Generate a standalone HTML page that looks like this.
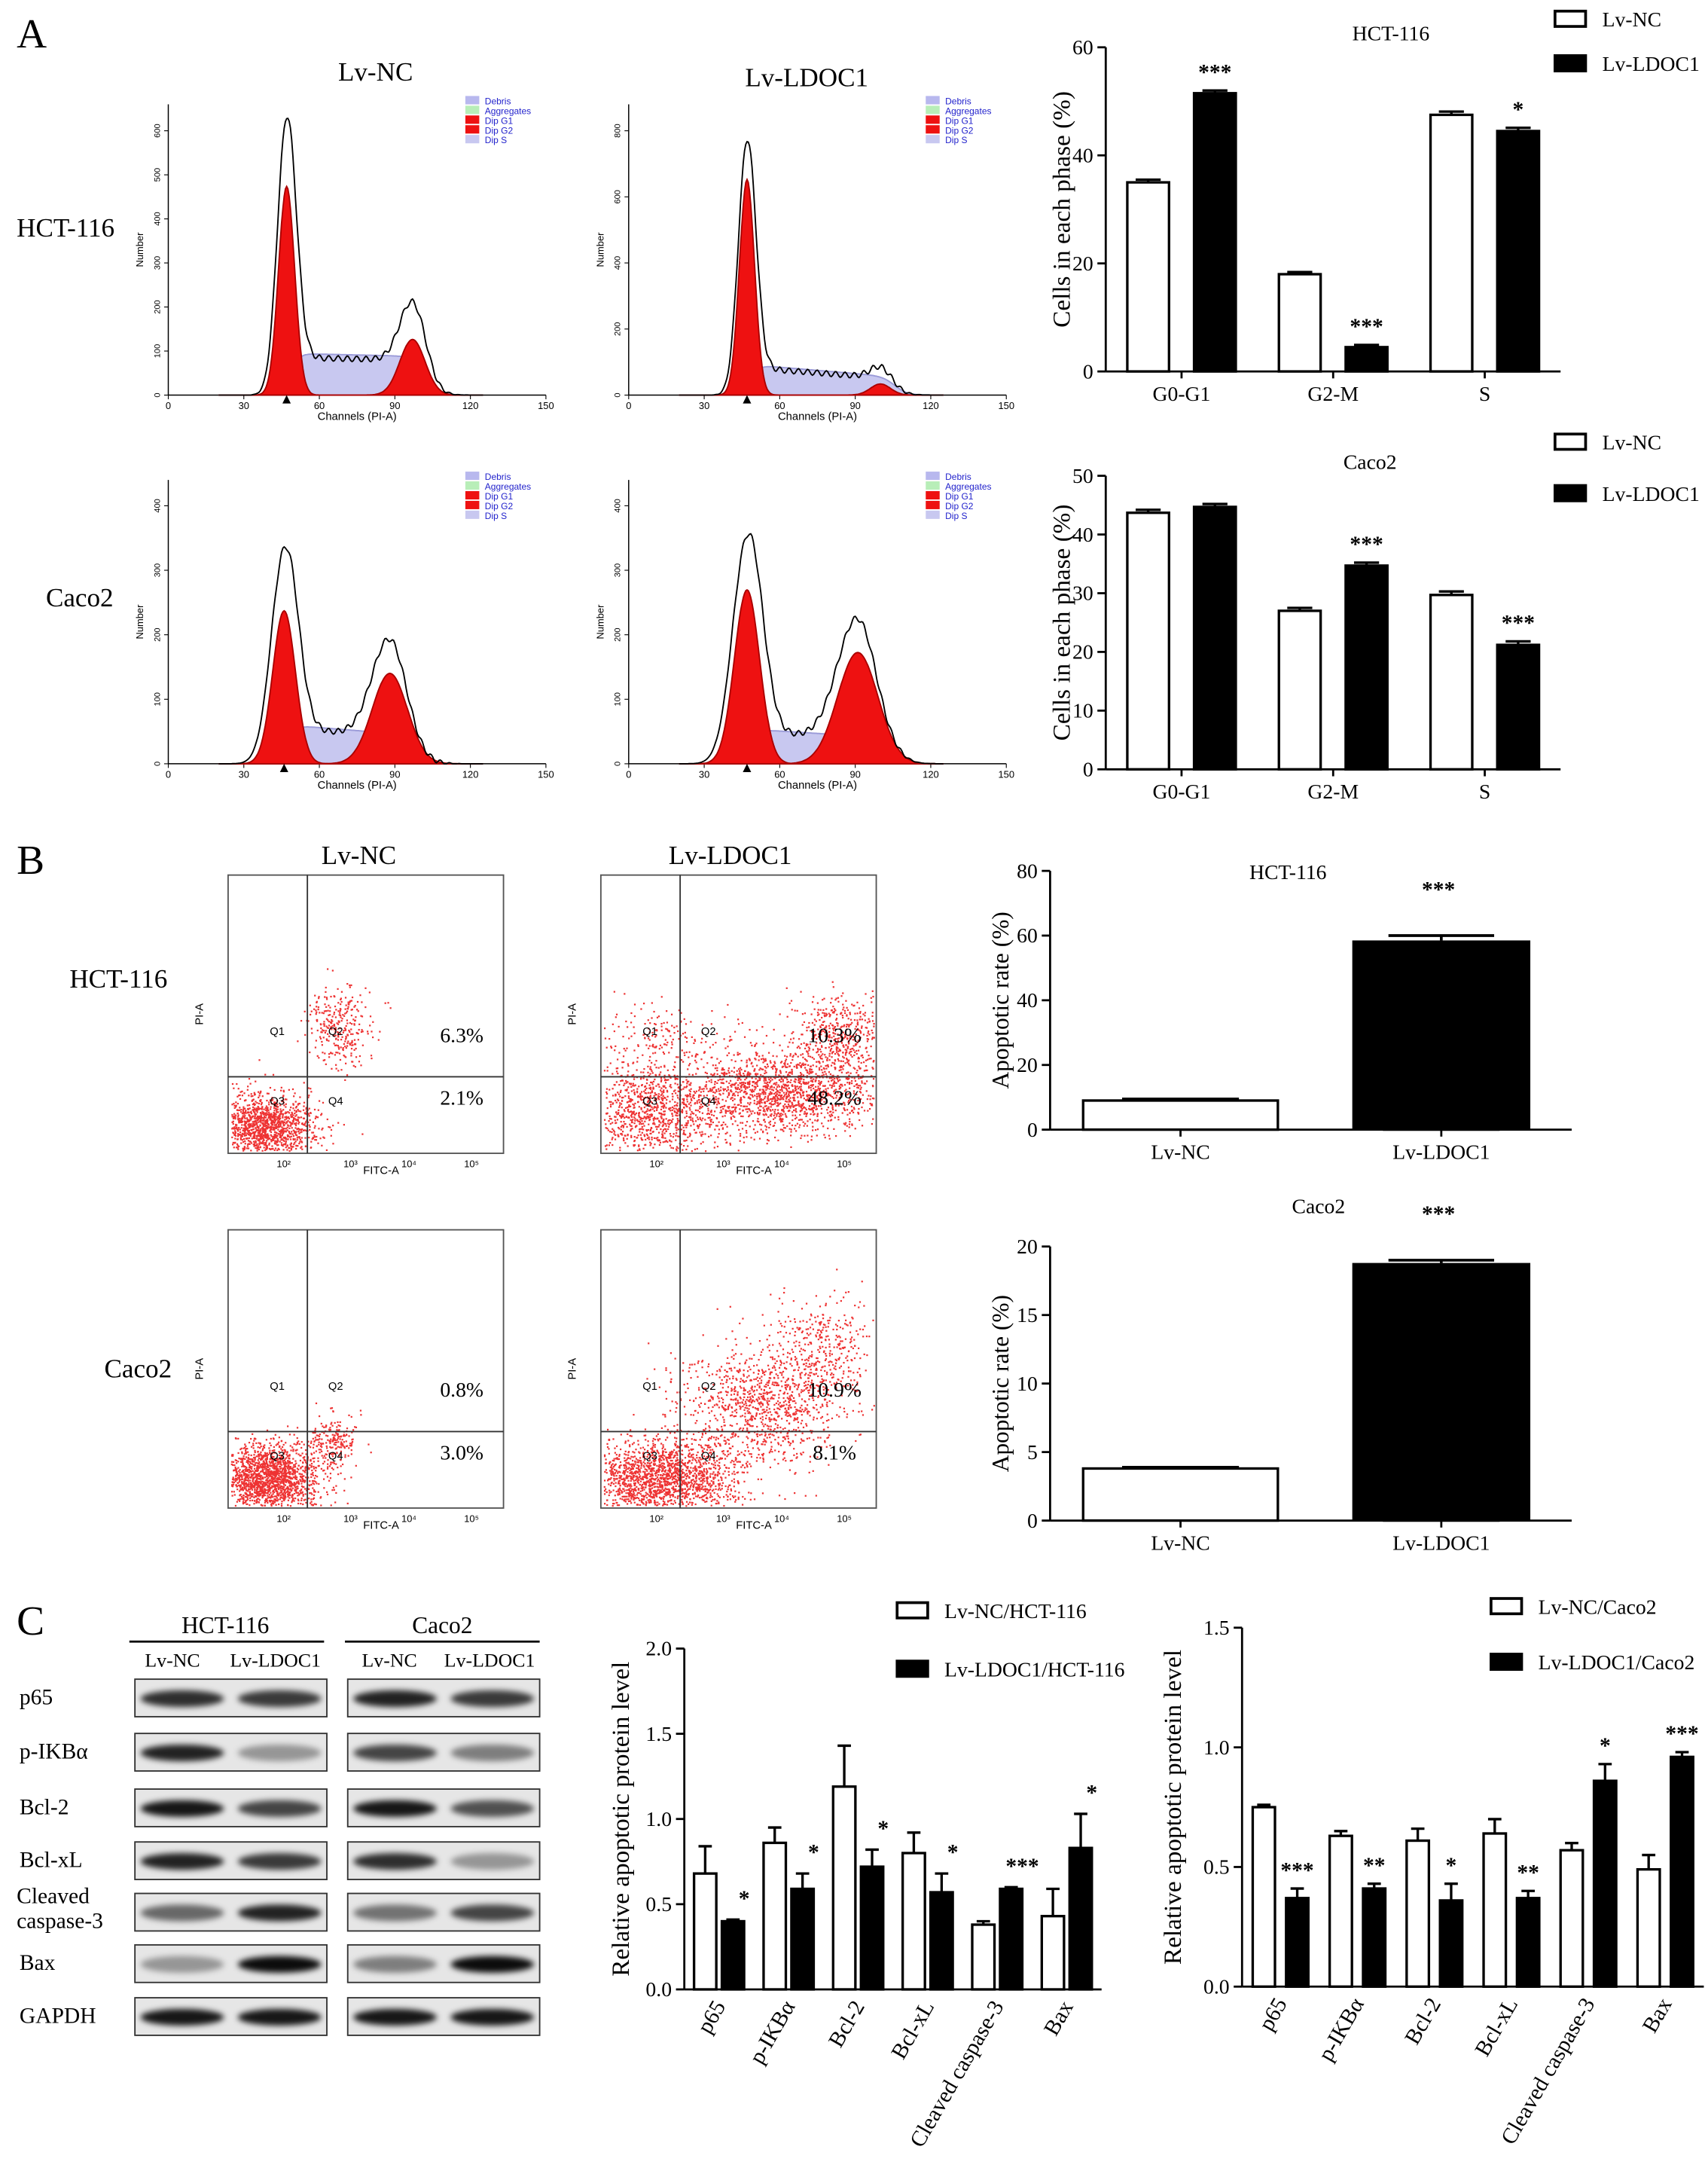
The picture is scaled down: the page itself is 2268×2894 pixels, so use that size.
<!DOCTYPE html>
<html><head><meta charset="utf-8"><style>
html,body{margin:0;padding:0;background:#fff}
svg{display:block}
text{font-family:"Liberation Serif",serif;fill:#000}
.s{font-family:"Liberation Sans",sans-serif}
</style></head><body>
<svg id="fig" width="2268" height="2894" viewBox="0 0 1228 1567" preserveAspectRatio="none" xmlns="http://www.w3.org/2000/svg">
<defs>
<filter id="blur" x="-20%" y="-50%" width="140%" height="200%"><feGaussianBlur stdDeviation="2.2"/></filter>
</defs>
<rect width="1228" height="1567" fill="#fff"/>
<text x="12" y="34" font-size="30">A</text>
<text x="12" y="628" font-size="30">B</text>
<text x="12" y="1175" font-size="30">C</text>
<g id="root"></g>
</svg>
<script>
// ---------- data ----------
const cycleCats=["G0-G1","G2-M","S"];
const hctCycleNC=[35,18,47.5];
const hctCycleLD=[51.5,4.5,44.5];
const hctCycleErrNC=[0.5,0.4,0.6];
const hctCycleErrLD=[0.5,0.4,0.6];
const hctCycleStars=["***","***","*"];
const cacoCycleNC=[43.7,27,29.7];
const cacoCycleLD=[44.7,34.7,21.2];
const cacoCycleErr=[0.5,0.5,0.6];
const cacoCycleStars=["","***","***"];
const apopCats=["Lv-NC","Lv-LDOC1"];
const hctApop=[9,58.5];
const hctApopErr=[0.5,1.5];
const cacoApop=[3.8,18.8];
const cacoApopErr=[0.1,0.2];
const protCats=["p65","p-IKB\u03b1","Bcl-2","Bcl-xL","Cleaved caspase-3","Bax"];
const hctProtNC=[0.68,0.86,1.19,0.80,0.38,0.43];
const hctProtLD=[0.40,0.59,0.72,0.57,0.59,0.83];
const hctProtErrNC=[0.16,0.09,0.24,0.12,0.02,0.16];
const hctProtErrLD=[0.01,0.09,0.10,0.11,0.01,0.20];
const hctProtStars=["*","*","*","*","***","*"];
const cacoProtNC=[0.75,0.63,0.61,0.64,0.57,0.49];
const cacoProtLD=[0.37,0.41,0.36,0.37,0.86,0.96];
const cacoProtErrNC=[0.01,0.02,0.05,0.06,0.03,0.06];
const cacoProtErrLD=[0.04,0.02,0.07,0.03,0.07,0.02];
const cacoProtStars=["***","**","*","**","*","***"];

const NS="http://www.w3.org/2000/svg";
const root=document.getElementById('root');
function el(tag,attrs,parent,txt){const e=document.createElementNS(NS,tag);for(const k in attrs)e.setAttribute(k,attrs[k]);if(txt!==undefined)e.textContent=txt;(parent||root).appendChild(e);return e;}

// ---------- bar chart ----------
function barChart(o){
  const g=el('g',{});
  
  
  const y=v=>o.y0-(v/o.max)*(o.y0-o.y1);
  const n=o.cats.length, gw=(o.x1-o.x0)/n;
  el('line',{x1:o.x0,y1:o.y0,x2:o.x0,y2:o.y1,stroke:'#000','stroke-width':1.5},g);
  el('line',{x1:o.x0,y1:o.y0,x2:o.x1,y2:o.y0,stroke:'#000','stroke-width':1.5},g);
  o.ticks.forEach(t=>{
    el('line',{x1:o.x0-6,y1:y(t),x2:o.x0,y2:y(t),stroke:'#000','stroke-width':1.5},g);
    const tl=el('text',{x:o.x0-9,y:y(t)+5,'font-size':15,'text-anchor':'end'},g,o.tickFmt?o.tickFmt(t):t);
    
    
  });
  const yt=el('text',{x:0,y:0,'font-size':o.ylSize||18,'text-anchor':'middle',transform:`translate(${o.x0-o.ylOff},${(o.y0+o.y1)/2}) rotate(-90)`},g,o.ylabel);
  
  
  if(o.title){const t=el('text',{x:o.titleX,y:o.titleY,'font-size':15,'text-anchor':'middle'},g,o.title);}
  o.cats.forEach((c,i)=>{
    const cx=o.x0+gw*(i+0.5);
    const series=[[o.v1,o.e1,'#fff'],[o.v2,o.e2,'#000']].filter(s=>s[0]);
    series.forEach((s,j)=>{
      const bx=series.length===1?cx-o.bw/2:(j===0?cx-o.bw-o.gap/2:cx+o.gap/2);
      const v=s[0][i], e=s[1][i];
      const r=el('rect',{x:bx,y:y(v),width:o.bw,height:o.y0-y(v),fill:s[2],stroke:'#000','stroke-width':1.8},g);
      
      
      const mx=bx+o.bw/2;
      el('line',{x1:mx,y1:y(v),x2:mx,y2:y(v+e),stroke:'#000','stroke-width':1.8},g);
      el('line',{x1:mx-o.bw*0.3,y1:y(v+e),x2:mx+o.bw*0.3,y2:y(v+e),stroke:'#000','stroke-width':1.8},g);
      if(j===series.length-1 && o.stars && o.stars[i]){
        const st=el('text',{x:mx+(o.starDx||0),y:Math.min(y(v+e),y(v))-(o.starGap||8),'font-size':16,'font-weight':'bold','text-anchor':'middle'},g,o.stars[i]);
        
        
      }
    });
    if(o.rotate){
      const xl=el('text',{x:0,y:0,'font-size':16,'text-anchor':'end',transform:`translate(${cx+5},${o.y0+12}) rotate(-60)`},g,c);
      
      
    } else {
      el('line',{x1:cx,y1:o.y0,x2:cx,y2:o.y0+5,stroke:'#000','stroke-width':1.5},g);
      const xl=el('text',{x:cx,y:o.y0+21,'font-size':15,'text-anchor':'middle'},g,c);
      
      
    }
  });
  if(o.legend){
    o.legend.forEach((l,k)=>{
      const ly=o.legY+k*o.legStep;
      const r=el('rect',{x:o.legX,y:ly-6,width:22,height:11,fill:k?'#000':'#fff',stroke:'#000','stroke-width':2},g);
      
      
      const t=el('text',{x:o.legX+34,y:ly+5,'font-size':15},g,l);
      
      
    });
  }
}

barChart({name:'hct116-cycle-chart',x0:795,x1:1122,y0:267,y1:34,max:60,ticks:[0,20,40,60],cats:cycleCats,v1:hctCycleNC,v2:hctCycleLD,e1:hctCycleErrNC,e2:hctCycleErrLD,stars:hctCycleStars,bw:30,gap:18,ylabel:'Cells in each phase (%)',ylOff:26,title:'HCT-116',titleX:1000,titleY:29,legend:['Lv-NC','Lv-LDOC1'],legX:1118,legY:14,legStep:32});
barChart({name:'caco2-cycle-chart',x0:795,x1:1122,y0:553,y1:342,max:50,ticks:[0,10,20,30,40,50],cats:cycleCats,v1:cacoCycleNC,v2:cacoCycleLD,e1:cacoCycleErr,e2:cacoCycleErr,stars:cacoCycleStars,bw:30,gap:18,ylabel:'Cells in each phase (%)',ylOff:26,title:'Caco2',titleX:985,titleY:337,legend:['Lv-NC','Lv-LDOC1'],legX:1118,legY:318,legStep:37});
barChart({name:'hct116-apoptosis-chart',x0:755,x1:1130,y0:812,y1:626,max:80,ticks:[0,20,40,60,80],cats:apopCats,v1:[hctApop[0],0],v2:null,e1:[hctApopErr[0],0],bw:140,gap:0,ylabel:'Apoptotic rate (%)',ylOff:30,ylSize:17,title:'HCT-116',titleX:926,titleY:632});
barChart({name:'caco2-apoptosis-chart',x0:755,x1:1130,y0:1093,y1:896,max:20,ticks:[0,5,10,15,20],cats:apopCats,v1:[cacoApop[0],0],v2:null,e1:[cacoApopErr[0],0],bw:140,gap:0,ylabel:'Apoptotic rate (%)',ylOff:30,ylSize:17,title:'Caco2',titleX:948,titleY:872});
function apopBlack(x0,x1,y0,y1,max,v,e,name){
  const y=t=>y0-(t/max)*(y0-y1);const cx=x0+(x1-x0)*0.75;
  const r=el('rect',{x:cx-64,y:y(v),width:128,height:y0-y(v),fill:'#000'});
  
  
  el('line',{x1:cx-38,y1:y(v+e),x2:cx+38,y2:y(v+e),stroke:'#000','stroke-width':2});
  el('line',{x1:cx,y1:y(v),x2:cx,y2:y(v+e),stroke:'#000','stroke-width':2});
  const s=el('text',{x:cx-2,y:y(v+e)-28,'font-size':16,'font-weight':'bold','text-anchor':'middle'},root,'***');
  
  
}
apopBlack(755,1130,812,626,80,hctApop[1],hctApopErr[1],'bar-ldoc1-hct116');
apopBlack(755,1130,1093,896,20,cacoApop[1],cacoApopErr[1],'bar-ldoc1-caco2');

barChart({name:'hct116-protein-chart',x0:492,x1:792,y0:1430,y1:1185,max:2,ticks:[0,0.5,1,1.5,2],tickFmt:t=>t.toFixed(1),cats:protCats,v1:hctProtNC,v2:hctProtLD,e1:hctProtErrNC,e2:hctProtErrLD,stars:hctProtStars,bw:16,gap:4,rotate:true,ylabel:'Relative apoptotic protein level',ylOff:40,starDx:8,starGap:10,legend:['Lv-NC/HCT-116','Lv-LDOC1/HCT-116'],legX:645,legY:1158,legStep:42});
barChart({name:'caco2-protein-chart',x0:893,x1:1225,y0:1428,y1:1170,max:1.5,ticks:[0,0.5,1,1.5],tickFmt:t=>t.toFixed(1),cats:protCats,v1:cacoProtNC,v2:cacoProtLD,e1:cacoProtErrNC,e2:cacoProtErrLD,stars:cacoProtStars,bw:16,gap:8,rotate:true,ylabel:'Relative apoptotic protein level',ylOff:44,starDx:0,starGap:8,legend:['Lv-NC/Caco2','Lv-LDOC1/Caco2'],legX:1072,legY:1155,legStep:40});

// ---------- flow cytometry histograms ----------
const histParams=[
 {name:'hist-hct116-nc',ox:121,base:284,top:75,ticks:[0,100,200,300,400,500,600],ymax:660,g1:[47,150,3.2],g2:[97,40,5],s:[30,28],outline:195},
 {name:'hist-hct116-ldoc1',ox:452,base:284,top:75,ticks:[0,200,400,600,800],ymax:880,g1:[47,155,3],g2:[100,8,4],s:[22,14],outline:180},
 {name:'hist-caco2-nc',ox:121,base:549,top:345,ticks:[0,100,200,300,400],ymax:440,g1:[46,110,4.5],g2:[88,65,7],s:[28,22],outline:150},
 {name:'hist-caco2-ldoc1',ox:452,base:549,top:345,ticks:[0,100,200,300,400],ymax:440,g1:[47,125,5],g2:[91,80,8],s:[25,20],outline:160}
];
const gauss=(x,m,a,s)=>a*Math.exp(-((x-m)*(x-m))/(2*s*s));
const sig=(x)=>1/(1+Math.exp(-x));
histParams.forEach(p=>{
  const g=el('g',{});
  const X=c=>p.ox+c*1.81;
  const H=p.base-p.top;
  el('line',{x1:p.ox,y1:p.base,x2:X(150),y2:p.base,stroke:'#000','stroke-width':0.8},g);
  el('line',{x1:p.ox,y1:p.base,x2:p.ox,y2:p.top,stroke:'#000','stroke-width':0.8},g);
  p.ticks.forEach(t=>{const yy=p.base-t/p.ymax*H;el('line',{x1:p.ox-3,y1:yy,x2:p.ox,y2:yy,stroke:'#000','stroke-width':0.6},g);
    el('text',{x:0,y:0,'font-size':6,'text-anchor':'middle',class:'s',transform:`translate(${p.ox-6},${yy}) rotate(-90)`},g,t);});
  [0,30,60,90,120,150].forEach(c=>{el('line',{x1:X(c),y1:p.base,x2:X(c),y2:p.base+3,stroke:'#000','stroke-width':0.6},g);el('text',{x:X(c),y:p.base+10,'font-size':7,'text-anchor':'middle',class:'s'},g,c);});
  el('text',{x:X(75),y:p.base+18,'font-size':8,'text-anchor':'middle',class:'s'},g,'Channels (PI-A)');
  el('text',{x:0,y:0,'font-size':7,'text-anchor':'middle',class:'s',transform:`translate(${p.ox-18},${(p.base+p.top)/2}) rotate(-90)`},g,'Number');
  let sPts=[],g1=[],g2=[],out=[];
  for(let c=20;c<=125;c+=0.5){
    const sv=sig((c-p.g1[0]-2)/1.5)*sig((p.g2[0]+6-c)/2.5)*(p.s[0]+(p.s[1]-p.s[0])*(c-p.g1[0])/(p.g2[0]-p.g1[0]));
    const a=gauss(c,p.g1[0],p.g1[1],p.g1[2]), b=gauss(c,p.g2[0],p.g2[1],p.g2[2]);
    sPts.push([X(c),p.base-Math.max(0,sv)]);
    g1.push([X(c),p.base-a]);
    g2.push([X(c),p.base-b]);
    const ol=gauss(c,p.g1[0],p.outline,p.g1[2]*1.15)+b*1.1+sv*0.9+2*Math.sin(c*1.7)*sig((c-40)/2)*sig((110-c)/2);
    out.push([X(c),p.base-Math.max(0,ol)]);
  }
  const poly=(pts,fill,stroke)=>el('path',{d:'M'+pts.map(q=>q[0].toFixed(1)+','+q[1].toFixed(1)).join('L')+(fill!=='none'?'Z':''),fill,stroke:stroke||'none','stroke-width':1},g);
  poly(sPts,'#c8c8f0','#9a9ad8');
  poly(g1,'#ee1111','#aa0000');
  poly(g2,'#ee1111','#aa0000');
  poly(out,'none','#000');
  el('path',{d:`M${X(p.g1[0])-3},${p.base+6}l3,-6l3,6z`,fill:'#000'},g);
  const lx=X(118),ly=p.top-6;
  [['#b8b8ee','Debris'],['#b8eeb8','Aggregates'],['#ee1111','Dip G1'],['#ee1111','Dip G2'],['#c8c8f0','Dip S']].forEach((l,k)=>{
    el('rect',{x:lx,y:ly+k*7,width:10,height:6,fill:l[0]},g);
    el('text',{x:lx+14,y:ly+k*7+6,'font-size':6.5,class:'s',style:'fill:#2222cc'},g,l[1]);
  });
});
[['Lv-NC',270,58],['Lv-LDOC1',580,62],['Lv-NC',258,621],['Lv-LDOC1',525,621]].forEach(t=>{const e=el('text',{x:t[1],y:t[2],'font-size':19,'text-anchor':'middle'},root,t[0]);});
[['HCT-116',12,170],['Caco2',33,436],['HCT-116',50,710],['Caco2',75,990]].forEach(t=>{const e=el('text',{x:t[1],y:t[2],'font-size':19},root,t[0]);});

// ---------- flow scatter plots (decorative density) ----------
const scatterPanels=[
 {name:'scatter-hct116-nc',x:164,y:629,q:['6.3%','2.1%'],clouds:[[190,810,18,12,1400],[245,738,12,14,300]]},
 {name:'scatter-hct116-ldoc1',x:432,y:629,q:['10.3%','48.2%'],clouds:[[465,800,22,16,900],[560,785,35,15,1600],[605,745,18,15,500],[470,750,25,15,250]]},
 {name:'scatter-caco2-nc',x:164,y:884,q:['0.8%','3.0%'],clouds:[[192,1062,18,12,1800],[238,1035,10,9,200]]},
 {name:'scatter-caco2-ldoc1',x:432,y:884,q:['10.9%','8.1%'],clouds:[[475,1062,28,14,1900],[545,1010,30,20,1000],[590,970,20,18,400]]}
];
let seed=7;const rnd=()=>{seed=(seed*16807)%2147483647;return seed/2147483647;};
const nrm=()=>{let u=rnd()||1e-6,v=rnd();return Math.sqrt(-2*Math.log(u))*Math.cos(6.283*v);};
scatterPanels.forEach(p=>{
  const g=el('g',{});
  el('rect',{x:p.x,y:p.y,width:198,height:200,fill:'#fff',stroke:'#555','stroke-width':1},g);
  p.clouds.forEach(c=>{for(let i=0;i<c[4];i++){const px=c[0]+nrm()*c[2],py=c[1]+nrm()*c[3];if(px>p.x+2&&px<p.x+196&&py>p.y+2&&py<p.y+198)el('rect',{x:px,y:py,width:1.2,height:1.2,fill:'#e33'},g);}});
  el('line',{x1:p.x+57,y1:p.y,x2:p.x+57,y2:p.y+200,stroke:'#333','stroke-width':1},g);
  el('line',{x1:p.x,y1:p.y+145,x2:p.x+198,y2:p.y+145,stroke:'#333','stroke-width':1},g);
  el('text',{x:p.x+168,y:p.y+120,'font-size':15,'text-anchor':'middle'},g,p.q[0]);
  el('text',{x:p.x+168,y:p.y+165,'font-size':15,'text-anchor':'middle'},g,p.q[1]);
  [['Q1',30,115],['Q2',72,115],['Q3',30,165],['Q4',72,165]].forEach(q=>el('text',{x:p.x+q[1],y:p.y+q[2],'font-size':8,class:'s'},g,q[0]));
  el('text',{x:p.x+110,y:p.y+215,'font-size':8,'text-anchor':'middle',class:'s'},g,'FITC-A');
  el('text',{x:0,y:0,'font-size':8,'text-anchor':'middle',class:'s',transform:`translate(${p.x-18},${p.y+100}) rotate(-90)`},g,'PI-A');
  [['10\u00b2',40],['10\u00b3',88],['10\u2074',130],['10\u2075',175]].forEach(t=>el('text',{x:p.x+t[1],y:p.y+210,'font-size':7,class:'s','text-anchor':'middle'},g,t[0]));
});

// ---------- western blots ----------
const blotRows=['p65','p-IKB\u03b1','Bcl-2','Bcl-xL','Cleaved caspase-3','Bax','GAPDH'];
const blotY=[1207,1246,1286,1324,1361,1398,1436];
const bandNC=[[0.8,0.75],[0.85,0.35],[0.9,0.7],[0.85,0.75],[0.55,0.85],[0.35,0.95],[0.9,0.9]];
const bandCaco=[[0.85,0.75],[0.7,0.45],[0.9,0.65],[0.8,0.35],[0.5,0.7],[0.45,0.95],[0.9,0.9]];
const wb=el('g',{});
el('text',{x:162,y:1174,'font-size':17,'text-anchor':'middle'},wb,'HCT-116');
el('text',{x:318,y:1174,'font-size':17,'text-anchor':'middle'},wb,'Caco2');
el('line',{x1:93,y1:1180,x2:233,y2:1180,stroke:'#000','stroke-width':1.5},wb);
el('line',{x1:248,y1:1180,x2:388,y2:1180,stroke:'#000','stroke-width':1.5},wb);
[['Lv-NC',124],['Lv-LDOC1',198],['Lv-NC',280],['Lv-LDOC1',352]].forEach(t=>el('text',{x:t[1],y:1198,'font-size':14,'text-anchor':'middle'},wb,t[0]));
blotRows.forEach((r,i)=>{
  const y=blotY[i];
  if(r==='Cleaved caspase-3'){el('text',{x:12,y:y+7,'font-size':16},wb,'Cleaved');el('text',{x:12,y:y+25,'font-size':16},wb,'caspase-3');}
  else el('text',{x:14,y:y+18,'font-size':16},wb,r);
  [[97,bandNC[i]],[250,bandCaco[i]]].forEach(b=>{
    el('rect',{x:b[0],y:y,width:138,height:27,fill:'#e6e6e6',stroke:'#333','stroke-width':1},wb);
    b[1].forEach((a,k)=>{el('ellipse',{cx:b[0]+34+k*70,cy:y+14,rx:30,ry:6,fill:'#000','fill-opacity':a,filter:'url(#blur)'},wb);});
  });
});
</script>
</body></html>
